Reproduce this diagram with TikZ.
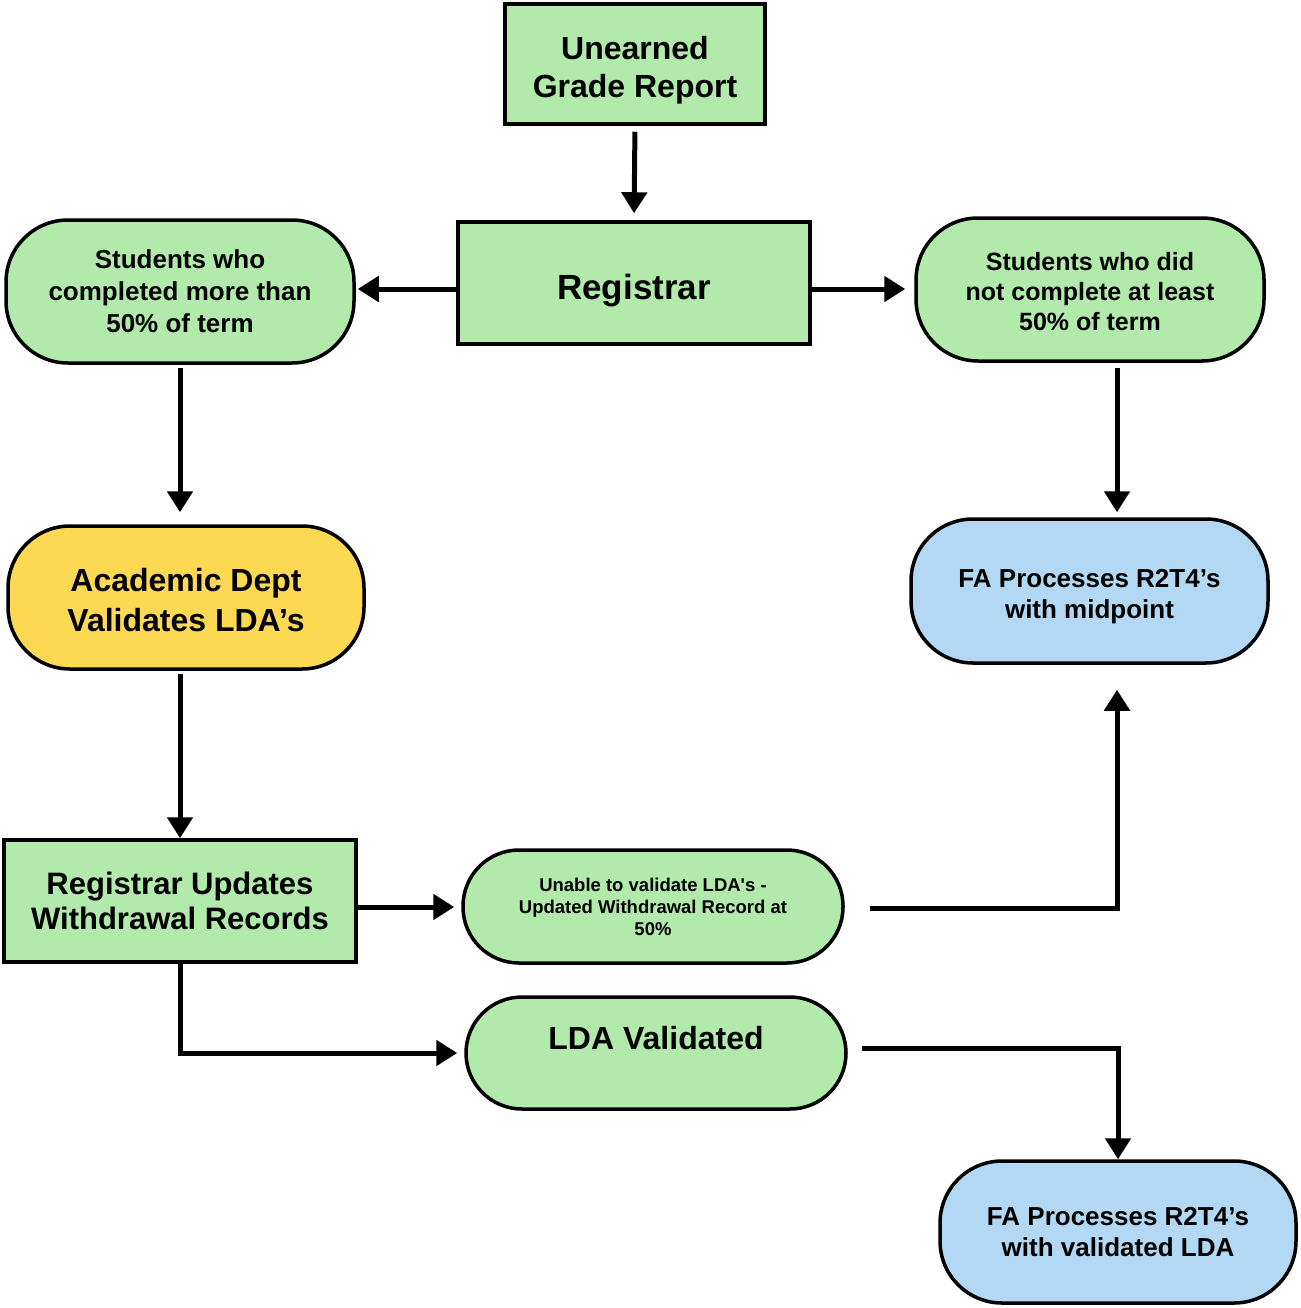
\documentclass[tikz,border=0pt]{standalone}
\usepackage{fontspec}
\setmainfont{Liberation Sans}[Ligatures=TeXOff]
\usetikzlibrary{arrows.meta,calc}
\definecolor{gfill}{HTML}{B1EAAA}
\definecolor{yfill}{HTML}{FDD853}
\definecolor{bfill}{HTML}{B3D8F3}
\tikzset{
  box/.style={draw=black,line width=3.5pt,fill=gfill,align=center,inner sep=0pt,font=\bfseries},
  pill/.style={box,rounded corners=62pt},
  conn/.style={line width=5pt,-{Triangle[length=21pt,width=25pt]}},
}
\begin{document}
\begin{tikzpicture}[x=1pt,y=-1pt]
\useasboundingbox (0,0) rectangle (1300,1308);
\node[box,minimum width=260pt,minimum height=120pt,font=\bfseries\fontsize{32}{38}\selectfont] (ug) at (635,64) {\rule{0pt}{35pt}Unearned\\Grade Report};
\node[box,minimum width=352pt,minimum height=122pt,font=\bfseries\fontsize{35}{40}\selectfont] (reg) at (634,283) {\rule{0pt}{40pt}Registrar};
\node[pill,minimum width=348pt,minimum height=143pt,font=\bfseries\fontsize{26}{32}\selectfont] (lp) at (180,291.5) {Students who\\completed more than\\50\% of term};
\node[pill,minimum width=348pt,minimum height=143pt,font=\bfseries\fontsize{25}{30}\selectfont] (rp) at (1090,289.5) {\rule{0pt}{22pt}Students who did\\not complete at least\\50\% of term};
\node[pill,fill=yfill,minimum width=356pt,minimum height=143pt,font=\bfseries\fontsize{32}{40}\selectfont] (ad) at (186,597.5) {\rule{0pt}{28pt}Academic Dept\\Validates LDA’s};
\node[pill,fill=bfill,minimum width=357pt,minimum height=144pt,font=\bfseries\fontsize{26}{31}\selectfont] (fam) at (1089.5,591) {\rule{0pt}{29pt}FA Processes R2T4’s\\with midpoint};
\node[box,minimum width=352pt,minimum height=122pt,font=\bfseries\fontsize{31}{35}\selectfont] (ru) at (180,901) {Registrar Updates\\Withdrawal Records};
\node[pill,rounded corners=56pt,minimum width=380pt,minimum height=113pt,font=\bfseries\fontsize{18.5}{22}\selectfont] (un) at (653,906.5) {Unable to validate LDA's -\\Updated Withdrawal Record at\\50\%};
\node[pill,rounded corners=56pt,minimum width=380pt,minimum height=112pt,text depth=30pt,font=\bfseries\fontsize{32}{38}\selectfont] (lda) at (656,1053) {LDA Validated};
\node[pill,fill=bfill,minimum width=356pt,minimum height=142pt,font=\bfseries\fontsize{26}{31}\selectfont] (fav) at (1118,1232) {FA Processes R2T4’s\\with validated LDA};
\coordinate (colx) at (1117,0);
% connectors
\draw[conn,shorten <=6pt,shorten >=7pt] (ug.south) -- (reg.north);
\draw[conn,shorten >=2pt] (reg.west |- 0,289) -- (lp.east |- 0,289);
\draw[conn,shorten >=9pt] (reg.east |- 0,289) -- (rp.west |- 0,289);
\draw[conn,shorten <=3pt,shorten >=12pt] (lp.south) -- (lp.south |- ad.north);
\draw[conn,shorten <=3pt] (ad.south -| lp.south) -- (lp.south |- ru.north);
\draw[conn,shorten <=5pt,shorten >=5pt] (rp.south -| colx) -- (colx |- fam.north);
\draw[conn,shorten >=7pt] (ru.east |- 0,907) -- (un.west |- 0,907);
\draw[conn,shorten <=25pt,shorten >=25pt] (un.east |- 0,908) -| (colx |- fam.south);
\draw[conn,shorten >=7pt] (ru.south) |- (lda.west);
\draw[conn,shorten <=14pt] (lda.east |- 0,1048) -| (fav.north);
\end{tikzpicture}
\end{document}
